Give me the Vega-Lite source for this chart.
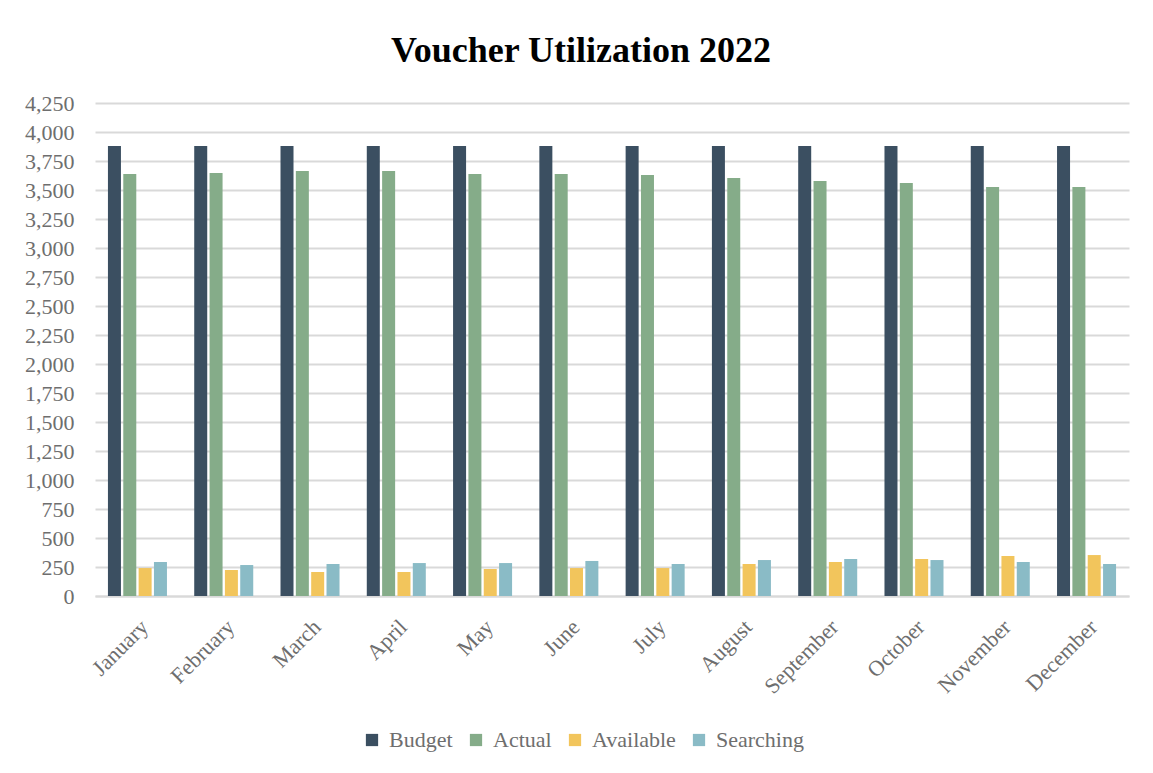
{
  "$schema": "https://vega.github.io/schema/vega-lite/v6.json",
  "autosize": "none",
  "width": 1034,
  "height": 493,
  "padding": {"left": 95, "top": 103, "right": 24, "bottom": 177},
  "background": "white",
  "title": {
    "text": "Voucher Utilization 2022",
    "font": "Liberation Serif",
    "fontSize": 36,
    "fontWeight": "bold",
    "color": "#000000",
    "anchor": "middle",
    "dx": -31,
    "offset": 22
  },
  "data": {
    "values": [
      {"month": "January", "series": "Budget", "value": 3880},
      {"month": "January", "series": "Actual", "value": 3638},
      {"month": "January", "series": "Available", "value": 241},
      {"month": "January", "series": "Searching", "value": 293},
      {"month": "February", "series": "Budget", "value": 3880},
      {"month": "February", "series": "Actual", "value": 3647},
      {"month": "February", "series": "Available", "value": 224},
      {"month": "February", "series": "Searching", "value": 267},
      {"month": "March", "series": "Budget", "value": 3880},
      {"month": "March", "series": "Actual", "value": 3664},
      {"month": "March", "series": "Available", "value": 207},
      {"month": "March", "series": "Searching", "value": 276},
      {"month": "April", "series": "Budget", "value": 3880},
      {"month": "April", "series": "Actual", "value": 3664},
      {"month": "April", "series": "Available", "value": 207},
      {"month": "April", "series": "Searching", "value": 284},
      {"month": "May", "series": "Budget", "value": 3880},
      {"month": "May", "series": "Actual", "value": 3638},
      {"month": "May", "series": "Available", "value": 233},
      {"month": "May", "series": "Searching", "value": 284},
      {"month": "June", "series": "Budget", "value": 3880},
      {"month": "June", "series": "Actual", "value": 3638},
      {"month": "June", "series": "Available", "value": 241},
      {"month": "June", "series": "Searching", "value": 302},
      {"month": "July", "series": "Budget", "value": 3880},
      {"month": "July", "series": "Actual", "value": 3629},
      {"month": "July", "series": "Available", "value": 241},
      {"month": "July", "series": "Searching", "value": 276},
      {"month": "August", "series": "Budget", "value": 3880},
      {"month": "August", "series": "Actual", "value": 3603},
      {"month": "August", "series": "Available", "value": 276},
      {"month": "August", "series": "Searching", "value": 310},
      {"month": "September", "series": "Budget", "value": 3880},
      {"month": "September", "series": "Actual", "value": 3578},
      {"month": "September", "series": "Available", "value": 293},
      {"month": "September", "series": "Searching", "value": 319},
      {"month": "October", "series": "Budget", "value": 3880},
      {"month": "October", "series": "Actual", "value": 3560},
      {"month": "October", "series": "Available", "value": 319},
      {"month": "October", "series": "Searching", "value": 310},
      {"month": "November", "series": "Budget", "value": 3880},
      {"month": "November", "series": "Actual", "value": 3526},
      {"month": "November", "series": "Available", "value": 345},
      {"month": "November", "series": "Searching", "value": 293},
      {"month": "December", "series": "Budget", "value": 3880},
      {"month": "December", "series": "Actual", "value": 3526},
      {"month": "December", "series": "Available", "value": 353},
      {"month": "December", "series": "Searching", "value": 276}
    ]
  },
  "mark": {"type": "bar"},
  "encoding": {
    "x": {
      "field": "month",
      "type": "nominal",
      "sort": null,
      "scale": {"paddingInner": 0.316, "paddingOuter": 0.15},
      "axis": {
        "title": null,
        "labelAngle": -45,
        "labelFont": "Liberation Serif",
        "labelFontSize": 22,
        "labelColor": "#6e6e6e",
        "labelPadding": 20,
        "ticks": false,
        "domain": true,
        "domainColor": "#d9d9d9",
        "domainWidth": 2,
        "grid": false
      }
    },
    "xOffset": {
      "field": "series",
      "type": "nominal",
      "sort": ["Budget", "Actual", "Available", "Searching"],
      "scale": {"paddingInner": 0.152, "paddingOuter": 0}
    },
    "y": {
      "field": "value",
      "type": "quantitative",
      "scale": {"domain": [0, 4250], "nice": false},
      "axis": {
        "title": null,
        "values": [0, 250, 500, 750, 1000, 1250, 1500, 1750, 2000, 2250, 2500, 2750, 3000, 3250, 3500, 3750, 4000, 4250],
        "format": ",.0f",
        "labelFont": "Liberation Serif",
        "labelFontSize": 22,
        "labelColor": "#6e6e6e",
        "labelPadding": 21,
        "ticks": false,
        "domain": false,
        "grid": true,
        "gridColor": "#d9d9d9",
        "gridWidth": 2
      }
    },
    "color": {
      "field": "series",
      "type": "nominal",
      "sort": ["Budget", "Actual", "Available", "Searching"],
      "scale": {
        "domain": ["Budget", "Actual", "Available", "Searching"],
        "range": ["#3B4F61", "#85AC89", "#F2C55C", "#8ABBC6"]
      },
      "legend": {
        "title": null,
        "orient": "none",
        "legendX": 266,
        "legendY": 626,
        "direction": "horizontal",
        "symbolType": "square",
        "symbolSize": 150,
        "symbolStrokeWidth": 0,
        "labelFont": "Liberation Serif",
        "labelFontSize": 22,
        "labelColor": "#6e6e6e",
        "labelOffset": 6,
        "columnPadding": 12
      }
    }
  },
  "config": {
    "view": {"stroke": null}
  }
}
